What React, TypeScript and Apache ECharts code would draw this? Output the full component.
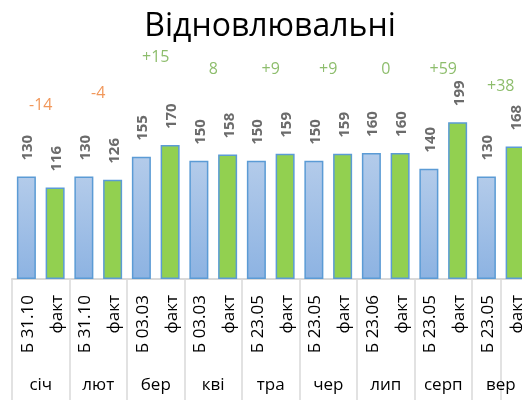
import React, { useEffect, useRef } from "react";
import * as echarts from "echarts";

const months = ["січ", "лют", "бер", "кві", "тра", "чер", "лип", "серп", "вер"];
const planLabels = ["Б 31.10", "Б 31.10", "Б 03.03", "Б 03.03", "Б 23.05", "Б 23.05", "Б 23.06", "Б 23.05", "Б 23.05"];
const factLabel = "факт";
const planValues = [130, 130, 155, 150, 150, 150, 160, 140, 130];
const factValues = [116, 126, 170, 158, 159, 159, 160, 199, 168];
const diffLabels = ["-14", "-4", "+15", "8", "+9", "+9", "0", "+59", "+38"];
// vertical placement of the difference labels, in value-axis units
const diffLabelLevels = [222, 237, 283, 268, 268, 268, 268, 268, 246];

const FONT = "'Open Sans', 'Noto Sans', sans-serif";

export default function App() {
  const ref = useRef<HTMLDivElement>(null);

  useEffect(() => {
    document.documentElement.style.overflow = "hidden";
    document.body.style.overflow = "hidden";
    const chart = echarts.init(ref.current!, undefined, { renderer: "svg" });

    const slots: string[] = [];
    const planData: (number | null)[] = [];
    const factData: (number | null)[] = [];
    planLabels.forEach((p, i) => {
      slots.push(p, factLabel);
      planData.push(planValues[i], null);
      factData.push(null, factValues[i]);
    });

    const valueLabel = {
      show: true,
      position: "top",
      rotate: 90,
      align: "left",
      verticalAlign: "middle",
      distance: 16,
      fontFamily: FONT,
      fontSize: 15,
      fontWeight: "bold",
      color: "#6b6b6b",
    };

    chart.setOption({
      animation: false,
      title: {
        text: "Відновлювальні",
        left: "center",
        top: 2,
        textStyle: { fontFamily: FONT, fontSize: 32, fontWeight: "normal", color: "#000" },
      },
      grid: { left: 12, right: 10.5, top: 42.6, bottom: 121 },
      xAxis: [
        {
          type: "category",
          data: slots,
          position: "bottom",
          axisLine: { show: true, lineStyle: { color: "#d9d9d9", width: 2 } },
          axisTick: { show: true, interval: 1, length: 121, lineStyle: { color: "#d9d9d9", width: 1.5 } },
          axisLabel: {
            interval: 0,
            rotate: 90,
            margin: 16,
            fontFamily: FONT,
            fontSize: 17,
            color: "#000",
          },
        },
        {
          type: "category",
          data: months,
          position: "bottom",
          axisLine: { show: false },
          axisTick: { show: false },
          axisLabel: { interval: 0, margin: 96, fontFamily: FONT, fontSize: 17, color: "#000" },
        },
      ],
      yAxis: { type: "value", min: 0, max: 300, show: false, splitLine: { show: false } },
      series: [
        {
          type: "bar",
          xAxisIndex: 0,
          data: planData,
          barWidth: 19,
          barGap: "-100%",
          itemStyle: {
            color: new echarts.graphic.LinearGradient(0, 0, 0, 1, [
              { offset: 0, color: "#b3cbea" },
              { offset: 1, color: "#8db3e2" },
            ]),
            borderColor: "#5b9bd5",
            borderWidth: 1.5,
          },
          label: valueLabel,
        },
        {
          type: "bar",
          xAxisIndex: 0,
          data: factData,
          barWidth: 19,
          barGap: "-100%",
          itemStyle: { color: "#92d050", borderColor: "#5b9bd5", borderWidth: 1.5 },
          label: valueLabel,
        },
        {
          type: "scatter",
          xAxisIndex: 1,
          symbolSize: 0,
          data: diffLabelLevels.map((v, i) => ({
            value: v,
            label: { color: diffLabels[i].startsWith("-") ? "#ed7d31" : "#70ad47" },
          })),
          label: {
            show: true,
            position: "inside",
            fontFamily: FONT,
            fontSize: 16,
            formatter: (p: any) => diffLabels[p.dataIndex],
          },
        },
      ],
    });

    return () => chart.dispose();
  }, []);

  return (
    <div
      ref={ref}
      style={{ position: "fixed", left: 0, top: 0, width: 540, height: 400 }}
    />
  );
}
